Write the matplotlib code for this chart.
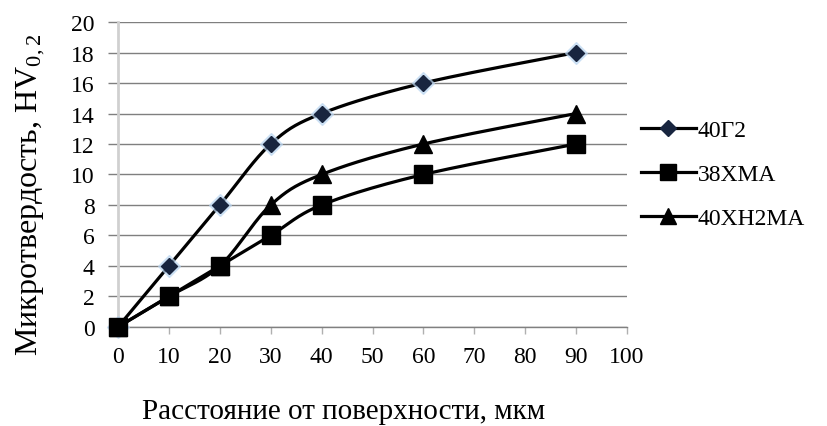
import numpy as np
import matplotlib
matplotlib.use("Agg")
import matplotlib.pyplot as plt
from matplotlib.lines import Line2D

plt.rcParams['font.family'] = ['Liberation Serif', 'DejaVu Serif']
plt.rcParams['mathtext.fontset'] = 'custom'
plt.rcParams['mathtext.rm'] = 'Liberation Serif'
plt.rcParams['mathtext.it'] = 'Liberation Serif'

x_vals = [0, 10, 20, 30, 40, 60, 90]
s_40g2 = [0, 4, 8, 12, 14, 16, 18]
s_38xma = [0, 2, 4, 6, 8, 10, 12]
s_40xn2ma = [0, 2, 4, 8, 10, 12, 14]
labels = ['40Г2', '38ХМА', '40ХН2МА']
x_ticks = [0, 10, 20, 30, 40, 50, 60, 70, 80, 90, 100]
y_ticks = [0, 2, 4, 6, 8, 10, 12, 14, 16, 18, 20]


def smooth(xs, ys, n=30, tension=0.5):
    # Bezier smoothing through the data points (like a spreadsheet "smoothed line")
    xs = np.asarray(xs, float); ys = np.asarray(ys, float)
    sx, sy = 100.0 / 509.0, 20.0 / 305.0
    P = np.column_stack([xs / sx, ys / sy])
    out = [P[0]]
    for i in range(len(P) - 1):
        p0 = P[i - 1] if i > 0 else P[i]
        p1 = P[i]; p2 = P[i + 1]
        p3 = P[i + 2] if i + 2 < len(P) else P[i + 1]
        c1 = p1 + (p2 - p0) * tension / 3.0
        c2 = p2 - (p3 - p1) * tension / 3.0
        t = np.linspace(0, 1, n)[1:, None]
        b = ((1 - t) ** 3) * p1 + 3 * ((1 - t) ** 2) * t * c1 + 3 * (1 - t) * t ** 2 * c2 + t ** 3 * p2
        out.extend(b)
    out = np.array(out)
    return out[:, 0] * sx, out[:, 1] * sy


fig = plt.figure(figsize=(8.27, 4.27), dpi=100)
ax = fig.add_axes([0.1427, 0.232, 0.6155, 0.714])

ax.set_xlim(0, 100)
ax.set_ylim(0, 20)
ax.set_xticks(x_ticks)
ax.set_yticks(y_ticks)
ax.yaxis.grid(True, color='#7f7f7f', linewidth=1.0)
ax.set_axisbelow(True)
for sp in ['top', 'right']:
    ax.spines[sp].set_visible(False)
ax.spines['left'].set_color('#d0d0d0')
ax.spines['left'].set_linewidth(2.0)
ax.spines['bottom'].set_color('#808080')
ax.spines['bottom'].set_linewidth(1.0)
ax.tick_params(axis='y', length=7, color='#7f7f7f', width=1.0, labelsize=17, pad=10)
ax.tick_params(axis='x', length=5, color='#b0b0b0', width=1.0, labelsize=17, pad=9)

lw = 2.3
line_color = 'black'

sx, sy = smooth(x_vals, s_40g2)
ax.plot(sx, sy, color=line_color, lw=lw, zorder=3, clip_on=False)
ax.plot(x_vals, s_40g2, linestyle='none', marker='D', markersize=11,
        markerfacecolor='#b8d4f0', markeredgecolor='#b8d4f0', alpha=0.6, zorder=4, clip_on=False)
ax.plot(x_vals, s_40g2, linestyle='none', marker='D', markersize=8.5,
        markerfacecolor='#18253f', markeredgecolor='#18253f', zorder=5, clip_on=False)

sx, sy = smooth(x_vals, s_40xn2ma)
ax.plot(sx, sy, color=line_color, lw=lw, zorder=3, clip_on=False)
ax.plot(x_vals, s_40xn2ma, linestyle='none', marker='^', markersize=13,
        color='black', zorder=5, clip_on=False)

sx, sy = smooth(x_vals, s_38xma)
ax.plot(sx, sy, color=line_color, lw=lw, zorder=3, clip_on=False)
ax.plot(x_vals, s_38xma, linestyle='none', marker='s', markersize=13,
        color='black', zorder=6, clip_on=False)

ax.set_xlabel('Расстояние от поверхности, мкм', fontsize=21, labelpad=22)
ax.xaxis.label.set_x(0.444)
ax.set_ylabel('Микротвердость, HV$_{0,2}$', fontsize=23, labelpad=17)
ax.yaxis.label.set_y(0.436)

handles = [
    Line2D([], [], color='black', lw=lw, marker='D', markersize=8,
           markerfacecolor='#18253f', markeredgecolor='#18253f'),
    Line2D([], [], color='black', lw=lw, marker='s', markersize=11),
    Line2D([], [], color='black', lw=lw, marker='^', markersize=11),
]
fig.legend(handles, labels, loc='upper left', bbox_to_anchor=(0.764, 0.74),
           frameon=False, fontsize=17, handlelength=2.3, handletextpad=0.1,
           labelspacing=0.95, borderaxespad=0)

fig.savefig('out.png', dpi=100)
